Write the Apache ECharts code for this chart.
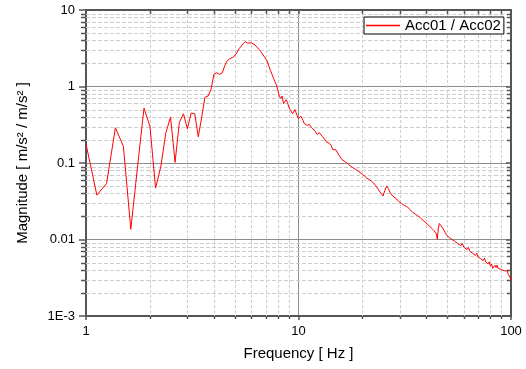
<!DOCTYPE html>
<html>
<head>
<meta charset="utf-8">
<script src="https://cdn.jsdelivr.net/npm/echarts@6/dist/echarts.min.js"></script>
<style>
  html, body { margin: 0; padding: 0; background: #fff; }
  #chart { width: 526px; height: 369px; }
</style>
</head>
<body>
<div id="chart"></div>
<script>
// frequency [Hz]
const freq = [
  1, 1.125, 1.25, 1.375, 1.5, 1.625, 1.75, 1.875, 2, 2.125, 2.25, 2.375, 2.5, 2.625, 2.75, 2.875,
  3, 3.125, 3.25, 3.375, 3.5, 3.625, 3.75, 3.875, 4, 4.125, 4.25, 4.375, 4.5, 4.625, 4.75, 4.875,
  5, 5.125, 5.25, 5.375, 5.5, 5.625, 5.75, 5.875, 6, 6.125, 6.25, 6.375, 6.5, 6.625, 6.75, 6.875,
  7, 7.125, 7.25, 7.375, 7.5, 7.625, 7.75, 7.875, 8, 8.125, 8.25, 8.375, 8.5, 8.625, 8.75, 8.875,
  9, 9.125, 9.25, 9.375, 9.5, 9.625, 9.75, 9.875, 10, 10.125, 10.25, 10.375, 10.5, 10.625,
  10.75, 11, 11.25, 11.5, 11.75, 12, 12.25, 12.5, 12.75, 13, 13.25, 13.5, 13.75, 14, 14.25, 14.5,
  14.75, 15, 15.25, 15.5, 15.75, 16, 16.25, 16.5, 16.75, 17, 17.25, 17.5, 17.75, 18, 18.25, 18.5,
  18.75, 19, 19.25, 19.5, 19.75, 20, 20.25, 20.5, 20.75, 21, 21.25, 21.5, 21.75, 22, 22.25, 22.5,
  22.75, 23, 23.25, 23.5, 23.75, 24, 24.25, 24.5, 24.75, 25,
  25.5, 26, 26.5, 27, 27.5, 28, 28.5, 29, 29.5, 30, 30.5, 31, 31.5, 32, 32.5, 33, 33.5, 34, 34.5,
  35, 35.5, 36, 36.5, 37, 37.5, 38, 38.5, 39, 39.5, 40, 40.5, 41, 41.5, 42, 42.5, 43, 43.5, 44,
  44.5, 45, 45.5, 46, 46.5, 47, 47.5, 48, 48.5, 49, 49.5, 50,
  51, 52, 53, 54, 55, 56, 57, 58, 59, 60, 61, 62, 63, 64, 65, 66, 67, 68, 69, 70, 71, 72, 73, 74,
  75, 76, 77, 78, 79, 80, 81, 82, 83, 84, 85, 86, 87, 88, 89, 90, 91, 92, 93, 94, 95, 96, 97, 98,
  99, 100
];

// magnitude ratio Acc01 / Acc02
const mag = [
  0.177, 0.038, 0.054, 0.288, 0.165, 0.0136, 0.092, 0.52, 0.30, 0.047, 0.09, 0.247, 0.40, 0.102, 0.34, 0.44,
  0.28, 0.45, 0.44, 0.22, 0.39, 0.72, 0.75, 0.91, 1.45, 1.51, 1.44, 1.5, 1.88, 2.19, 2.31, 2.38,
  2.5, 2.76, 3.12, 3.37, 3.66, 3.85, 3.7, 3.66, 3.72, 3.6, 3.48, 3.27, 3.12, 2.9, 2.68, 2.5,
  2.38, 2.15, 1.85, 1.62, 1.45, 1.28, 1.22, 1.05, 0.88, 0.75, 0.70, 0.75, 0.60, 0.63, 0.67, 0.62,
  0.54, 0.50, 0.47, 0.44, 0.43, 0.50, 0.45, 0.41, 0.38, 0.37, 0.41, 0.43, 0.36, 0.33,
  0.34, 0.31, 0.32, 0.29, 0.28, 0.26, 0.235, 0.25, 0.245, 0.22, 0.205, 0.19, 0.198, 0.18, 0.168, 0.15,
  0.157, 0.148, 0.14, 0.127, 0.121, 0.111, 0.115, 0.105, 0.103, 0.099, 0.097, 0.092, 0.091, 0.087, 0.088, 0.083,
  0.084, 0.079, 0.080, 0.075, 0.076, 0.071, 0.072, 0.067, 0.068, 0.063, 0.065, 0.061, 0.060, 0.058, 0.057, 0.055,
  0.053, 0.051, 0.049, 0.047, 0.046, 0.043, 0.042, 0.040, 0.039, 0.037,
  0.044, 0.050, 0.046, 0.041, 0.038, 0.038, 0.035, 0.035, 0.032, 0.032, 0.0295, 0.0302, 0.0278, 0.028, 0.0268, 0.0268, 0.0245, 0.0245, 0.0225,
  0.0228, 0.0215, 0.0215, 0.0203, 0.0204, 0.0192, 0.0192, 0.0179, 0.018, 0.0168, 0.0168, 0.0157, 0.0159, 0.0148, 0.0149, 0.0139, 0.014, 0.013, 0.013,
  0.0119, 0.0101, 0.0138, 0.0162, 0.0170, 0.0150, 0.0152, 0.0137, 0.0135, 0.0123, 0.0124, 0.0112,
  0.0118, 0.0103, 0.0109, 0.0096, 0.0101, 0.0089, 0.0094, 0.0083, 0.0089, 0.0079, 0.0083, 0.0074, 0.0079, 0.0070, 0.0074, 0.0066, 0.0070, 0.0062, 0.0066, 0.0059, 0.0062, 0.0056, 0.0059, 0.0053,
  0.0057, 0.0051, 0.0054, 0.0048, 0.0051, 0.0045, 0.0048, 0.0042, 0.0040, 0.0046, 0.0043, 0.0046, 0.0042, 0.0044, 0.0041, 0.0043, 0.0040, 0.0042, 0.0039, 0.0041, 0.0037, 0.0039, 0.0035, 0.0036,
  0.0032, 0.0029
];

// minor (dashed) grid positions
const xMinor = [2, 3, 4, 5, 6, 7, 8, 9, 20, 30, 40, 50, 60, 70, 80, 90];
const yMinor = [
  0.002, 0.003, 0.004, 0.005, 0.006, 0.007, 0.008, 0.009,
  0.02, 0.03, 0.04, 0.05, 0.06, 0.07, 0.08, 0.09,
  0.2, 0.3, 0.4, 0.5, 0.6, 0.7, 0.8, 0.9,
  2, 3, 4, 5, 6, 7, 8, 9
];

// tick labels by decade exponent
const xTickLabels = { "0": "1", "1": "10", "2": "100" };
const yTickLabels = { "-3": "1E-3", "-2": "0.01", "-1": "0.1", "0": "1", "1": "10" };

const FONT = "'Liberation Sans', Arial, sans-serif";
const AXIS = "#555";
const RED = "#ff0000";

const chart = echarts.init(document.getElementById("chart"));

const decade = (v) => String(Math.round(Math.log10(v)));

const option = {
  animation: false,
  backgroundColor: "#fff",
  grid: { left: 86, right: 15, top: 10, bottom: 53 },
  legend: {
    data: [{ name: "Acc01 / Acc02", itemStyle: { color: RED, borderWidth: 0 } }],
    left: 364,
    top: 17,
    padding: [0, 3, 0, 2],
    borderColor: "#000",
    borderWidth: 1,
    borderRadius: 0,
    backgroundColor: "#fff",
    icon: "rect",
    itemWidth: 34,
    itemHeight: 1.5,
    itemStyle: { color: RED, borderWidth: 0 },
    textStyle: { fontFamily: FONT, fontSize: 15, color: "#000", lineHeight: 17 },
  },
  xAxis: [
    {
      type: "log",
      logBase: 10,
      min: 1,
      max: 100,
      position: "bottom",
      name: "Frequency [ Hz ]",
      nameLocation: "middle",
      nameGap: 30,
      nameTextStyle: { fontFamily: FONT, fontSize: 15, color: "#000" },
      axisLine: { lineStyle: { color: AXIS, width: 2 } },
      axisTick: { inside: false, length: 4, lineStyle: { color: AXIS, width: 1.5 } },
      axisLabel: {
        fontFamily: FONT, fontSize: 13, color: "#000", margin: 9,
        formatter: (v) => xTickLabels[decade(v)],
      },
      splitLine: { show: true, lineStyle: { color: "#8c8c8c", width: 1 } },
    },
    {
      type: "log",
      logBase: 10,
      min: 1,
      max: 100,
      position: "top",
      axisLine: { lineStyle: { color: AXIS, width: 2 } },
      axisTick: { inside: true, length: 5, lineStyle: { color: AXIS, width: 1.5 } },
      axisLabel: { show: false },
      splitLine: { show: false },
    },
  ],
  yAxis: [
    {
      type: "log",
      logBase: 10,
      min: 0.001,
      max: 10,
      position: "left",
      name: "Magnitude [ m/s² / m/s² ]",
      nameLocation: "middle",
      nameGap: 56,
      nameTextStyle: { fontFamily: FONT, fontSize: 15, color: "#000" },
      axisLine: { lineStyle: { color: AXIS, width: 2 } },
      axisTick: { inside: false, length: 7, lineStyle: { color: AXIS, width: 1.5 } },
      axisLabel: {
        fontFamily: FONT, fontSize: 13, color: "#000", margin: 11,
        formatter: (v) => yTickLabels[decade(v)],
      },
      splitLine: { show: true, lineStyle: { color: "#8c8c8c", width: 1 } },
    },
    {
      type: "log",
      logBase: 10,
      min: 0.001,
      max: 10,
      position: "right",
      axisLine: { lineStyle: { color: AXIS, width: 2 } },
      axisTick: { inside: true, length: 5, lineStyle: { color: AXIS, width: 1.5 } },
      axisLabel: { show: false },
      splitLine: { show: false },
    },
  ],
  series: [
    {
      // vertical minor grid + minor ticks on bottom/top
      type: "custom",
      coordinateSystem: "cartesian2d",
      silent: true,
      z: 1,
      data: xMinor.map((v) => [v, 1]),
      renderItem: (params, api) => {
        const x = Math.round(api.coord([api.value(0), 1])[0]) + 0.5;
        const cs = params.coordSys;
        const y0 = cs.y, y1 = cs.y + cs.height;
        return {
          type: "group",
          children: [
            { type: "line", shape: { x1: x, y1: y0, x2: x, y2: y1 },
              style: { stroke: "#cdcdcd", lineWidth: 1, lineDash: [3, 2] } },
            { type: "line", shape: { x1: x, y1: y1, x2: x, y2: y1 + 3 },
              style: { stroke: AXIS, lineWidth: 1.5 } },
            { type: "line", shape: { x1: x, y1: y0, x2: x, y2: y0 + 4 },
              style: { stroke: AXIS, lineWidth: 1.5 } },
          ],
        };
      },
    },
    {
      // horizontal minor grid + minor ticks on left/right
      type: "custom",
      coordinateSystem: "cartesian2d",
      silent: true,
      z: 1,
      data: yMinor.map((v) => [1, v]),
      renderItem: (params, api) => {
        const y = Math.round(api.coord([1, api.value(1)])[1]) + 0.5;
        const cs = params.coordSys;
        const x0 = cs.x, x1 = cs.x + cs.width;
        return {
          type: "group",
          children: [
            { type: "line", shape: { x1: x0, y1: y, x2: x1, y2: y },
              style: { stroke: "#cdcdcd", lineWidth: 1, lineDash: [4, 2] } },
            { type: "line", shape: { x1: x0 - 5, y1: y, x2: x0, y2: y },
              style: { stroke: AXIS, lineWidth: 1.5 } },
            { type: "line", shape: { x1: x1 - 4, y1: y, x2: x1, y2: y },
              style: { stroke: AXIS, lineWidth: 1.5 } },
          ],
        };
      },
    },
    {
      name: "Acc01 / Acc02",
      type: "line",
      z: 3,
      data: freq.map((f, i) => [f, mag[i]]),
      symbol: "none",
      lineStyle: { color: RED, width: 1 },
      itemStyle: { color: RED },
    },
  ],
};

chart.setOption(option);
</script>
</body>
</html>
